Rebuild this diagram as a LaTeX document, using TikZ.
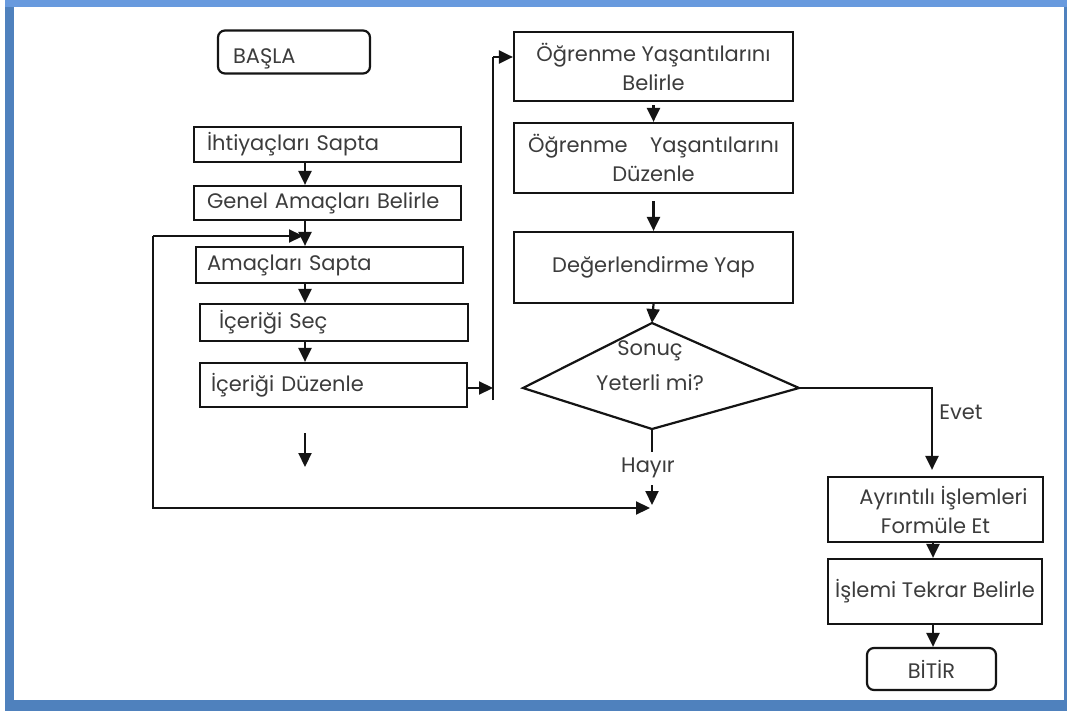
\documentclass[tikz,border=0pt]{standalone}
\usepackage{fontspec}
\setmainfont{Poppins}
\usetikzlibrary{arrows.meta}

\definecolor{cerceve}{RGB}{79,129,189}
\definecolor{cerceveust}{RGB}{104,154,222}
\definecolor{yazi}{RGB}{60,60,60}
\definecolor{cizgi}{RGB}{20,20,20}

\tikzset{
  kutu/.style={draw=cizgi, line width=2.2pt, inner sep=0pt, text=yazi,
    font=\fontsize{21}{29}\selectfont},
  etiket/.style={text=yazi, font=\fontsize{21}{35}\selectfont, align=center},
  ok/.style={draw=cizgi, line width=2.2pt, -{Triangle[width=13pt,length=14pt]}},
  hat/.style={draw=cizgi, line width=2.2pt},
}

\begin{document}
\begin{tikzpicture}[x=1pt,y=-1pt]
  % cerceve
  \useasboundingbox (0,0) rectangle (1068,711);
  \fill[cerceve] (5,0) rectangle (1067,711);
  \fill[cerceveust] (5,0) rectangle (1067,7);
  \fill[white] (14,7) rectangle (1064,700);

  % sol sutun
  \node[kutu, rounded corners=7pt, minimum width=152pt, minimum height=43pt, text width=122pt, align=left] (basla) at (294,52) {\raisebox{-12pt}[0pt][0pt]{BAŞLA}};
  \node[kutu, minimum width=267pt, minimum height=35pt, text width=241pt, align=left] (ihtiyac) at (327.5,144.5) {İhtiyaçları Sapta};
  \node[kutu, minimum width=267pt, minimum height=34pt, text width=241pt, align=left] (genel) at (327.5,203) {Genel Amaçları Belirle};
  \node[kutu, minimum width=267pt, minimum height=36pt, text width=245pt, align=left] (amac) at (329.5,265) {Amaçları Sapta};
  \node[kutu, minimum width=268pt, minimum height=37pt, text width=230pt, align=left] (secim) at (334,322.5) {İçeriği Seç};
  \node[kutu, minimum width=267pt, minimum height=44pt, text width=245pt, align=left] (duzen) at (333.5,385) {İçeriği Düzenle};

  % sag sutun
  \node[kutu, minimum width=279pt, minimum height=69pt, align=center] (ogr1) at (653.5,66.5) {Öğrenme Yaşantılarını\\Belirle};
  \node[kutu, minimum width=279pt, minimum height=70pt, align=center] (ogr2) at (653.5,158) {Öğrenme\hspace{0.8em} Yaşantılarını\\Düzenle};
  \node[kutu, minimum width=279pt, minimum height=71pt, align=center] (deger) at (653.5,267.5) {Değerlendirme Yap};

  % karar
  \coordinate (kT) at (652,323);
  \coordinate (kL) at (523,388);
  \coordinate (kR) at (799,388);
  \coordinate (kB) at (652,429);
  \draw[hat, line join=miter] (kT) -- (kR) -- (kB) -- (kL) -- cycle;
  \node[etiket] (karar) at (650,366) {Sonuç\\Yeterli mi?};

  \node[kutu, minimum width=215pt, minimum height=65pt, align=center] (ayrinti) at (935.5,509.5) {\hspace{16pt}Ayrıntılı İşlemleri\\Formüle Et};
  \node[kutu, minimum width=214pt, minimum height=65pt, align=center] (islem) at (935,591.5) {İşlemi Tekrar Belirle};
  \node[kutu, rounded corners=7pt, minimum width=129pt, minimum height=42pt] (bitir) at (931.5,669) {BİTİR};

  \node[etiket] (evet) at (961,412) {Evet};
  \node[etiket] (hayir) at (648,468) {Hayır};

  % baglantilar
  \coordinate (solx) at (305,0);
  \coordinate (sagx) at (933,0);
  \draw[ok] (ihtiyac.south -| solx) -- (genel.north -| solx);
  \draw[ok] (genel.south -| solx) -- (amac.north -| solx);
  \draw[ok] (amac.south -| solx) -- (secim.north -| solx);
  \draw[ok] (secim.south -| solx) -- (duzen.north -| solx);
  \coordinate (bosust) at (305,433);
  \coordinate (bosalt) at (305,467);
  \draw[ok] (bosust) -- (bosalt);

  \coordinate (donus) at (153,236);
  \coordinate (donusuc) at (303,236);
  \coordinate (donusalt) at (153,508);
  \coordinate (hayiruc) at (650,508);
  \draw[ok] (donus) -- (donusuc);
  \draw[ok] (donus) -- (donusalt) -- (hayiruc);

  \coordinate (dikust) at (493,57);
  \coordinate (dikalt) at (493,400);
  \coordinate (dikok) at (493,388);
  \draw[ok] (duzen.east |- dikok) -- (dikok);
  \draw[hat] (dikalt) -- (dikust);
  \draw[ok] (dikust) -- (ogr1.west |- dikust);

  \draw[ok, shorten <=3pt] (ogr1.south) -- (ogr2.north);
  \draw[ok, shorten <=7pt] (ogr2.south) -- (deger.north);
  \draw[ok] (deger.south) -- (kT);

  \coordinate (hayirust) at (652,452);
  \coordinate (hayirok) at (652,485);
  \coordinate (hayirson) at (652,505);
  \draw[hat] (kB) -- (hayirust);
  \draw[ok] (hayirok) -- (hayirson);

  \coordinate (evetkose) at (932,388);
  \draw[ok, shorten >=6pt] (kR) -- (evetkose) -- (evetkose |- ayrinti.north);
  \draw[ok] (ayrinti.south -| sagx) -- (islem.north -| sagx);
  \draw[ok] (islem.south -| sagx) -- (bitir.north -| sagx);
\end{tikzpicture}
\end{document}
